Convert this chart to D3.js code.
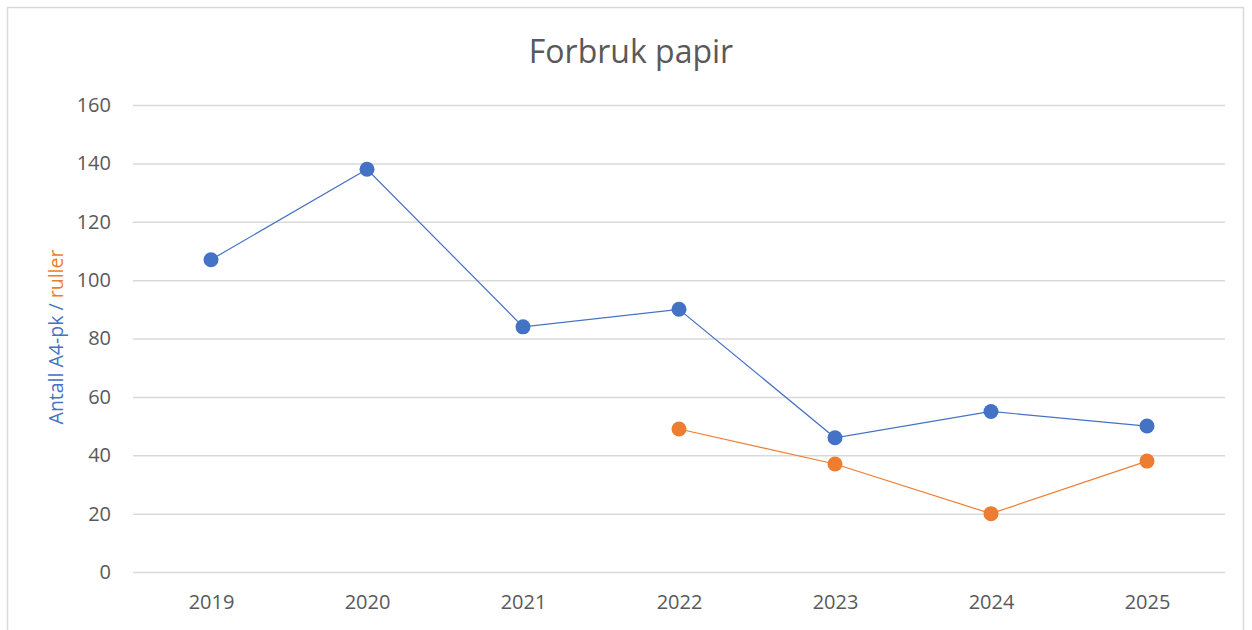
<!DOCTYPE html>
<html>
<head>
<meta charset="utf-8">
<script src="https://cdn.jsdelivr.net/npm/d3@7"></script>
<style>
  body { margin: 0; background: #fff; }
  svg text { font-family: "Open Sans", sans-serif; }
</style>
</head>
<body>
<div class="chart_container"></div>
<script>
const years = ['2019', '2020', '2021', '2022', '2023', '2024', '2025'];
const a4Values = [107, 138, 84, 90, 46, 55, 50];
const rullerValues = [null, null, null, 49, 37, 20, 38];
const yTicks = [0, 20, 40, 60, 80, 100, 120, 140, 160];

const blue = '#4472C4';
const orange = '#ED7D31';

const width = 1252;
const height = 630;
const plot = { left: 133, right: 1225, top: 105, bottom: 572 };

function drawChart() {
  const container = document.querySelector('div.chart_container');
  container.innerHTML = `<svg id='svgCont' width=${width} height=${height}></svg>`;
  const svg = d3.select(container).select('#svgCont');

  // chart frame
  svg.append('rect')
    .attr('x', 7.5).attr('y', 7.5)
    .attr('width', 1236).attr('height', 640)
    .attr('fill', 'none')
    .attr('stroke', '#d9d9d9')
    .attr('stroke-width', 1.5);

  const xScale = d3.scalePoint()
    .domain(years)
    .range([plot.left, plot.right])
    .padding(0.5);

  const yScale = d3.scaleLinear()
    .domain([0, 160])
    .range([plot.bottom, plot.top]);

  // gridlines + y labels
  const yAxis = d3.axisLeft(yScale)
    .tickValues(yTicks)
    .tickSize(-(plot.right - plot.left))
    .tickPadding(22);
  const gy = svg.append('g')
    .attr('transform', `translate(${plot.left},0)`)
    .call(yAxis);
  gy.select('.domain').remove();
  gy.selectAll('line').attr('stroke', '#d9d9d9').attr('stroke-width', 1.5);
  gy.selectAll('text')
    .attr('fill', '#595959')
    .style('font-size', '20px');

  // x labels
  const xAxis = d3.axisBottom(xScale).tickSize(0).tickPadding(23);
  const gx = svg.append('g')
    .attr('transform', `translate(0,${plot.bottom})`)
    .call(xAxis);
  gx.select('.domain').remove();
  gx.selectAll('text')
    .attr('fill', '#595959')
    .style('font-size', '20px');

  // title
  svg.append('text')
    .attr('x', 631).attr('y', 63)
    .attr('text-anchor', 'middle')
    .attr('fill', '#595959')
    .style('font-size', '32px')
    .text('Forbruk papir');

  // axis title
  const at = svg.append('text')
    .attr('transform', 'translate(63,337) rotate(-90)')
    .attr('text-anchor', 'middle')
    .style('font-size', '19.5px');
  at.append('tspan').attr('fill', blue).text('Antall A4-pk / ');
  at.append('tspan').attr('fill', orange).text('ruller');

  const series = [
    { values: a4Values, color: blue },
    { values: rullerValues, color: orange },
  ];

  series.forEach(s => {
    const pts = years.map((y, i) => [y, s.values[i]]).filter(d => d[1] != null);
    const line = d3.line()
      .x(d => xScale(d[0]))
      .y(d => yScale(d[1]));
    svg.append('path')
      .attr('d', line(pts))
      .attr('fill', 'none')
      .attr('stroke', s.color)
      .attr('stroke-width', 1.2);
    svg.selectAll(null)
      .data(pts).enter().append('circle')
      .attr('cx', d => xScale(d[0]))
      .attr('cy', d => yScale(d[1]))
      .attr('r', 7.5)
      .attr('fill', s.color);
  });
}

drawChart();
</script>
</body>
</html>
